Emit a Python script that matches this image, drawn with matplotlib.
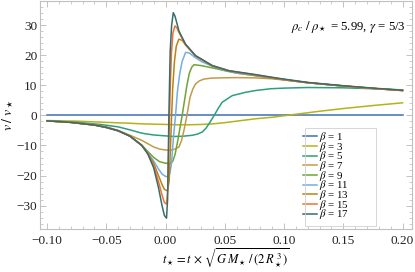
import matplotlib
matplotlib.use("Agg")
import matplotlib.pyplot as plt
from matplotlib.ticker import MultipleLocator
from matplotlib.patches import Rectangle

plt.rcParams['font.family'] = ['Liberation Serif', 'DejaVu Serif']
plt.rcParams['mathtext.fontset'] = 'stix'

# values (t_star, v / v_star)
t1 = [-0.1, 0.2]
v1 = [0.0, 0.0]

t3 = [-0.1, -0.075, -0.05, -0.03, -0.02, -0.01, 0.0, 0.01, 0.02, 0.03, 0.04, 0.05, 0.06, 0.076, 0.09, 0.11, 0.13, 0.15, 0.175, 0.2]
v3 = [-1.7, -1.9, -2.3, -2.6, -2.8, -2.9, -3.0, -3.1, -3.1, -3.0, -2.8, -2.4, -1.9, -1.1, -0.6, 0.4, 1.4, 2.3, 3.3, 4.2]

t5 = [-0.1, -0.075, -0.055, -0.04, -0.03, -0.021, -0.017, -0.01, 0.0, 0.007, 0.015, 0.0225, 0.027, 0.031, 0.034, 0.0366, 0.041, 0.0445, 0.0478, 0.0563, 0.0675, 0.076, 0.089, 0.1, 0.12, 0.15, 0.175, 0.2]
v5 = [-1.8, -2.3, -3.0, -3.8, -4.8, -5.8, -6.1, -6.5, -6.8, -7.0, -6.9, -6.6, -6.2, -5.5, -4.3, -2.8, 0.0, 2.4, 4.4, 6.6, 7.7, 8.3, 8.9, 9.1, 9.3, 9.2, 8.9, 8.5]

t7 = [-0.1, -0.08, -0.06, -0.05, -0.04, -0.03, -0.02, -0.015, -0.01, -0.005, 0.0, 0.004, 0.008, 0.0113, 0.0135, 0.0155, 0.018, 0.0206, 0.023, 0.0253, 0.0285, 0.0323, 0.038, 0.045, 0.06, 0.076, 0.09, 0.1, 0.12, 0.15, 0.175, 0.2]
v7 = [-1.8, -2.3, -3.1, -3.8, -5.0, -6.6, -8.3, -9.4, -10.5, -11.2, -11.5, -11.6, -11.2, -10.5, -8.3, -5.0, 0.0, 6.0, 8.8, 10.5, 11.5, 12.1, 12.4, 12.5, 12.6, 12.5, 12.2, 11.8, 10.9, 9.8, 9.0, 8.3]

t9 = [-0.1, -0.08, -0.06, -0.05, -0.04, -0.03, -0.02, -0.015, -0.01, -0.005, 0.0, 0.0035, 0.006, 0.008, 0.01, 0.012, 0.014, 0.016, 0.018, 0.02, 0.022, 0.024, 0.03, 0.04, 0.05, 0.06, 0.076, 0.09, 0.1, 0.12, 0.15, 0.175, 0.2]
v9 = [-1.8, -2.3, -3.2, -3.9, -5.1, -6.9, -9.9, -12.0, -14.0, -15.4, -15.9, -16.0, -15.3, -13.0, -9.0, -4.5, 0.0, 5.0, 10.0, 14.0, 16.0, 16.9, 16.6, 15.8, 14.9, 14.1, 13.2, 12.4, 11.9, 10.9, 9.8, 9.0, 8.3]

t11 = [-0.1, -0.08, -0.06, -0.05, -0.04, -0.03, -0.02, -0.015, -0.01, -0.006, -0.003, 0.0, 0.002, 0.0035, 0.005, 0.0065, 0.0084, 0.01, 0.012, 0.014, 0.0169, 0.02, 0.025, 0.03, 0.04, 0.05, 0.06, 0.076, 0.09, 0.1, 0.12, 0.15, 0.175, 0.2]
v11 = [-1.8, -2.3, -3.2, -4.0, -5.1, -6.9, -10.0, -12.4, -15.2, -17.8, -19.5, -20.3, -20.4, -19.5, -16.0, -8.0, 0.0, 8.0, 14.0, 18.0, 21.0, 20.8, 19.3, 18.0, 16.3, 15.0, 14.1, 13.3, 12.5, 11.9, 10.9, 9.8, 9.0, 8.3]

t13 = [-0.1, -0.08, -0.06, -0.05, -0.04, -0.03, -0.02, -0.015, -0.01, -0.006, -0.003, -0.001, 0.0015, 0.003, 0.004, 0.005, 0.006, 0.0075, 0.009, 0.0112, 0.014, 0.017, 0.0253, 0.0394, 0.0534, 0.076, 0.09, 0.1, 0.12, 0.15, 0.175, 0.2]
v13 = [-1.8, -2.3, -3.2, -4.0, -5.1, -6.9, -10.0, -12.6, -16.0, -20.0, -23.0, -24.6, -25.1, -22.0, -12.0, -1.0, 9.0, 18.0, 23.0, 25.4, 25.0, 23.4, 19.8, 16.5, 14.8, 13.4, 12.5, 11.9, 10.9, 9.8, 9.0, 8.3]

t15 = [-0.1, -0.08, -0.06, -0.05, -0.04, -0.03, -0.02, -0.015, -0.01, -0.006, -0.003, -0.001, 0.0008, 0.0018, 0.003, 0.004, 0.005, 0.0062, 0.0079, 0.0095, 0.0113, 0.0169, 0.0253, 0.0394, 0.0534, 0.076, 0.09, 0.1, 0.12, 0.15, 0.175, 0.2]
v15 = [-1.8, -2.3, -3.2, -4.0, -5.1, -6.9, -10.0, -12.8, -16.8, -22.0, -26.5, -29.0, -29.5, -25.0, -5.0, 10.0, 21.0, 27.5, 29.8, 29.2, 27.6, 23.5, 19.9, 16.6, 14.9, 13.5, 12.6, 12.0, 10.9, 9.8, 9.0, 8.3]

t17 = [-0.1, -0.08, -0.06, -0.05, -0.04, -0.03, -0.02, -0.015, -0.01, -0.006, -0.003, -0.001, 0.0008, 0.0017, 0.0028, 0.0039, 0.0051, 0.0065, 0.008, 0.0113, 0.0169, 0.0253, 0.0394, 0.0534, 0.076, 0.09, 0.1, 0.12, 0.15, 0.175, 0.2]
v17 = [-1.8, -2.3, -3.2, -4.0, -5.1, -6.9, -10.0, -12.8, -17.5, -24.0, -30.0, -33.3, -34.2, -28.0, 0.0, 21.5, 30.0, 34.2, 33.0, 28.1, 23.7, 19.9, 16.6, 14.9, 13.6, 12.7, 12.1, 11.0, 9.9, 9.1, 8.4]

betas = [1, 3, 5, 7, 9, 11, 13, 15, 17]
colors = ['#3d6fb6', '#b3b31a', '#2f9e7e', '#c49a4a', '#6ea534',
          '#74aee0', '#b98216', '#ee7234', '#3b6b6b']

fig = plt.figure(figsize=(4.15, 2.72), dpi=100)
ax = fig.add_axes([40 / 415, 1 - 229 / 272, 372 / 415, 228 / 272])

series = [(t1, v1), (t3, v3), (t5, v5), (t7, v7), (t9, v9),
          (t11, v11), (t13, v13), (t15, v15), (t17, v17)]
for (t, v), b, c in zip(series, betas, colors):
    ax.plot(t, v, color=c, lw=1.1, label=r'$\beta$ = %d' % b)

ax.set_xlim(-0.106, 0.208)
ax.set_ylim(-37.8, 38.1)
ax.xaxis.set_minor_locator(MultipleLocator(0.01))
ax.yaxis.set_minor_locator(MultipleLocator(2))
ax.set_xticks([-0.1, -0.05, 0, 0.05, 0.1, 0.15, 0.2])
ax.set_xticklabels(['\u22120.10', '\u22120.05', '0.00', '0.05', '0.10', '0.15', '0.20'])
ax.set_yticks([-30, -20, -10, 0, 10, 20, 30])
ax.set_yticklabels(['\u221230', '\u221220', '\u221210', '0', '10', '20', '30'])
ax.tick_params(which='both', direction='in', top=True, right=True,
               color='#b8b8b8', labelsize=9.5, labelcolor='#222222')
ax.tick_params(axis='x', pad=4)
ax.tick_params(axis='y', pad=2)
ax.tick_params(which='major', length=4, width=0.6)
ax.tick_params(which='minor', length=2, width=0.5)
for s in ax.spines.values():
    s.set_color('#c0c0c0')
    s.set_linewidth(0.8)

ax.set_xlabel(r'$t_\star = t\,\times\,\sqrt{G\,M_\star\,/\,(2\,R_\star^{\;3})}$',
              fontsize=9, labelpad=0)
ax.set_ylabel(r'$v\;/\;v_\star$', fontsize=10, labelpad=0)

ax.text(0.1055, 28.6, r'$\rho_c\;/\;\rho_\star$ = 5.99, $\gamma$ = 5/3', fontsize=9.2)

# legend: box drawn by hand so the handles sit on its left edge, like the reference
leg = ax.legend(loc='upper left', bbox_to_anchor=(303 / 415, 1 - 130 / 272),
                bbox_transform=fig.transFigure, fontsize=7.8, frameon=False,
                handlelength=1.25, handletextpad=0.2, labelspacing=-0.4,
                borderpad=0.0, borderaxespad=0.0)
fig.patches.append(Rectangle((305 / 415, 1 - 226 / 272), 71 / 415, 98 / 272,
                             transform=fig.transFigure, fill=False,
                             edgecolor='#d0d0d0', lw=0.6))

fig.savefig('out.png', dpi=100)
